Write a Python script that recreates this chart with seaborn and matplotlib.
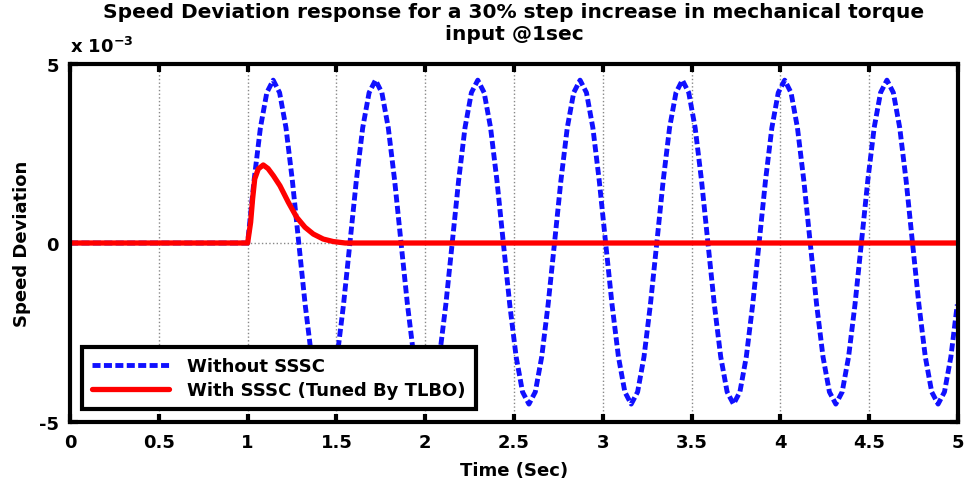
import numpy as np
import pandas as pd
import matplotlib
matplotlib.use("Agg")
import matplotlib.pyplot as plt
import seaborn as sns

# values are in units of 1e-3
# without SSSC: sampled every 0.036 s starting at the step (t = 1 s)
t_start = 1.0
t_step = 0.036
without_sssc = [
    0.0, 1.74, 3.22, 4.2, 4.55, 4.2, 3.22, 1.74, 0.0, -1.72, -3.18, -4.16, -4.5, -4.16, -3.18, -1.72,
    0.0, 1.74, 3.22, 4.2, 4.55, 4.2, 3.22, 1.74, 0.0, -1.72, -3.18, -4.16, -4.5, -4.16, -3.18, -1.72,
    0.0, 1.74, 3.22, 4.2, 4.55, 4.2, 3.22, 1.74, 0.0, -1.72, -3.18, -4.16, -4.5, -4.16, -3.18, -1.72,
    0.0, 1.74, 3.22, 4.2, 4.55, 4.2, 3.22, 1.74, 0.0, -1.72, -3.18, -4.16, -4.5, -4.16, -3.18, -1.72,
    0.0, 1.74, 3.22, 4.2, 4.55, 4.2, 3.22, 1.74, 0.0, -1.72, -3.18, -4.16, -4.5, -4.16, -3.18, -1.72,
    0.0, 1.74, 3.22, 4.2, 4.55, 4.2, 3.22, 1.74, 0.0, -1.72, -3.18, -4.16, -4.5, -4.16, -3.18, -1.72,
    0.0, 1.74, 3.22, 4.2, 4.55, 4.2, 3.22, 1.74, 0.0, -1.72, -3.18, -4.16, -4.5, -4.16, -3.18, -1.72,
]

# with SSSC (tuned by TLBO)
t_with = [0.0, 1.0, 1.017, 1.028, 1.04, 1.06, 1.088, 1.115, 1.145, 1.182, 1.229,
          1.276, 1.323, 1.37, 1.426, 1.483, 1.55, 5.0]
with_sssc = [0.0, 0.0, 0.58, 1.23, 1.79, 2.07, 2.18, 2.08, 1.88, 1.60, 1.14,
             0.72, 0.44, 0.25, 0.11, 0.04, 0.0, 0.0]

x_ticks = [0, 0.5, 1, 1.5, 2, 2.5, 3, 3.5, 4, 4.5, 5]
y_ticks = [-5, 0, 5]

t_without = [0.0] + list(t_start + t_step * np.arange(len(without_sssc)))
df_without = pd.DataFrame({"t": t_without, "y": [0.0] + without_sssc})
df_with = pd.DataFrame({"t": t_with, "y": with_sssc})

sns.set_style("ticks")
plt.rcParams["font.family"] = ["DejaVu Sans"]
plt.rcParams["font.weight"] = "bold"
plt.rcParams["mathtext.default"] = "bf"
plt.rcParams["axes.unicode_minus"] = False
for k in ["text.color", "axes.labelcolor", "xtick.color", "ytick.color"]:
    plt.rcParams[k] = "black"

fig = plt.figure(figsize=(9.66, 4.89), dpi=100)
ax = fig.add_axes([0.0725, 0.135, 0.9192, 0.732])

sns.lineplot(data=df_without, x="t", y="y", ax=ax, color="#1010ff", lw=3.5,
             linestyle=(0, (1.65, 0.7)), estimator=None, label="Without SSSC")
sns.lineplot(data=df_with, x="t", y="y", ax=ax, color="#ff0000", lw=3.8,
             estimator=None, label="With SSSC (Tuned By TLBO)")

ax.set_xlim(0, 5)
ax.set_ylim(-5, 5)
ax.set_xticks(x_ticks)
ax.set_xticklabels([f"{v:g}" for v in x_ticks])
ax.set_yticks(y_ticks)
ax.grid(True, color="#888888", linestyle=":", linewidth=1)
ax.tick_params(direction="in", length=6, width=3, top=True, right=True,
               labelsize=13, pad=8)
for s in ax.spines.values():
    s.set_linewidth(3)
    s.set_color("black")
    s.set_zorder(5)

ax.set_xlabel("Time (Sec)", fontsize=13, fontweight="bold", labelpad=7)
ax.set_ylabel("Speed Deviation", fontsize=13, fontweight="bold", labelpad=6)
# two-line title, first line placed separately
fig.text(0.532, 0.974, "Speed Deviation response for a 30% step increase in mechanical torque",
         fontsize=14.5, fontweight="bold", ha="center", va="center")
ax.set_title("input @1sec", fontsize=14.5, fontweight="bold", pad=18)
ax.text(0.0, 1.022, r"x 10$^{-3}$", transform=ax.transAxes, fontsize=13,
        fontweight="bold", ha="left", va="bottom")

leg = ax.legend(loc="lower left", bbox_to_anchor=(0.013, 0.036), borderaxespad=0,
                fontsize=13, handlelength=4.3, handletextpad=1.0, fancybox=False,
                framealpha=1, edgecolor="black", borderpad=0.55, labelspacing=0.35)
leg.get_frame().set_linewidth(3)
for txt in leg.get_texts():
    txt.set_fontweight("bold")

fig.savefig("out.png", dpi=100)
